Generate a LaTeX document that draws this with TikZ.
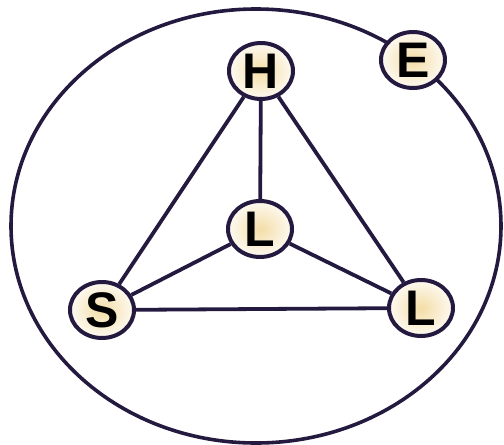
\documentclass[tikz,border=0pt]{standalone}
\usepackage{fontspec}
\setsansfont{Liberation Sans}
\usetikzlibrary{positioning,shapes.geometric}
\definecolor{lineadark}{HTML}{241A40}
\definecolor{nodocrema}{HTML}{F4DDA6}

\begin{document}
\begin{tikzpicture}[x=1pt,y=-1pt,
    letra/.style={ellipse,draw=lineadark,line width=4pt,inner color=nodocrema,
      outer color=white!85!nodocrema,minimum width=64pt,minimum height=56pt,inner sep=0pt,
      font=\sffamily\bfseries\fontsize{50}{50}\selectfont},
    enlace/.style={draw=lineadark,line width=3.8pt}]
        \useasboundingbox(0,0)rectangle(504,445);
        % Contorno exterior
        \draw[lineadark,line width=3.6pt](256,226)ellipse(245pt and 217pt);
        % Nodos
        \node[letra](h)at(261,71){H};
        \node[letra](e)at(413,60){E};
        \node[letra](lc)at(260,229){L};
        \node[letra](s)at(102,310){S};
        \node[letra](lr)at(421,308){L};
        % Enlaces
        \foreach \a/\b in {h/s, h/lc, h/lr, s/lc, s/lr, lc/lr}{
          \draw[enlace](\a)--(\b);}
      \end{tikzpicture}
\end{document}
